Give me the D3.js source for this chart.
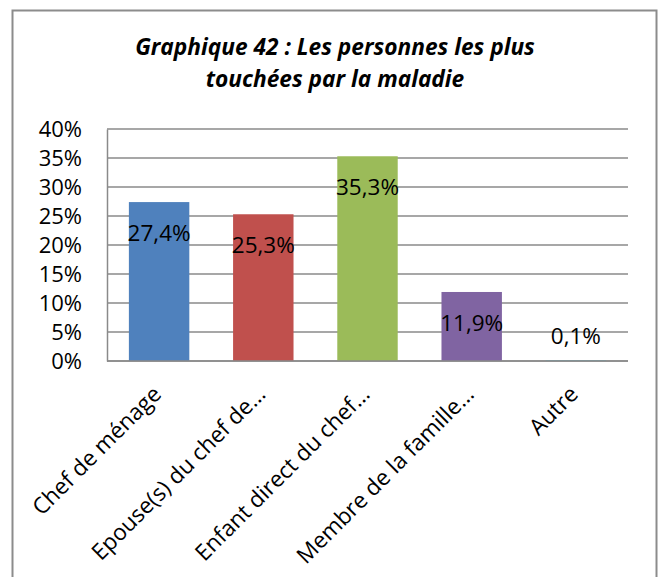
<!DOCTYPE html>
<html>
<head>
<meta charset="utf-8">
<script src="https://cdn.jsdelivr.net/npm/d3@7"></script>
<style>
  html, body { margin: 0; padding: 0; background: #fff; }
  svg { display: block; }
  text { font-family: "Open Sans", Lato, sans-serif; fill: #000; }
</style>
</head>
<body>
<svg id="chart" width="663" height="577"></svg>
<script>
// Les personnes les plus touchées par la maladie
const categories = [
  "Chef de ménage",
  "Epouse(s) du chef de…",
  "Enfant direct du chef…",
  "Membre de la famille…",
  "Autre"
];
const values = [27.4, 25.3, 35.3, 11.9, 0.1];
const barColors = ["#4F81BD", "#C0504D", "#9BBB59", "#8064A2", "#4BACC6"];
const yTicks = [0, 5, 10, 15, 20, 25, 30, 35, 40];
const titleLines = ["Graphique 42 : Les personnes les plus", "touchées par la maladie"];

const svg = d3.select("#chart");
const W = 663, H = 577;
const plot = { left: 107, right: 628, top: 129, bottom: 361 };

// outer frame
svg.append("rect")
  .attr("x", 12.5).attr("y", 10.5)
  .attr("width", 644).attr("height", H + 20)
  .attr("fill", "#fff").attr("stroke", "#8c8c8c").attr("stroke-width", 2);

// title
svg.append("g").selectAll("text").data(titleLines).join("text")
  .attr("x", 335)
  .attr("y", (d, i) => 55 + i * 32)
  .attr("text-anchor", "middle")
  .style("font-size", "22.7px")
  .style("font-weight", "bold")
  .style("font-style", "italic")
  .text(d => d);

const x = d3.scaleBand().domain(categories).range([plot.left, plot.right]).paddingInner(0.42).paddingOuter(0.21);
const y = d3.scaleLinear().domain([0, 40]).range([plot.bottom, plot.top]);

// gridlines
svg.append("g").selectAll("line").data(yTicks).join("line")
  .attr("x1", plot.left).attr("x2", plot.right)
  .attr("y1", d => y(d)).attr("y2", d => y(d))
  .attr("stroke", "#8a8a8a").attr("stroke-width", 1.5);

// y axis
const yAxis = d3.axisLeft(y).tickValues(yTicks).tickSize(0).tickPadding(25).tickFormat(d => d + "%");
const gy = svg.append("g").attr("transform", `translate(${plot.left},0)`).call(yAxis);
gy.select(".domain").attr("stroke", "#8a8a8a").attr("stroke-width", 1.5);
gy.selectAll("text").style("font-size", "22px").style("font-family", "'Open Sans', sans-serif").attr("fill", "#000");

// bars
svg.append("g").selectAll("rect").data(values).join("rect")
  .attr("x", (d, i) => x(categories[i]))
  .attr("width", x.bandwidth())
  .attr("y", d => y(d))
  .attr("height", d => plot.bottom - y(d))
  .attr("fill", (d, i) => barColors[i]);

// x axis baseline
svg.append("line")
  .attr("x1", plot.left).attr("x2", plot.right)
  .attr("y1", plot.bottom).attr("y2", plot.bottom)
  .attr("stroke", "#8a8a8a").attr("stroke-width", 1.5);

// data labels
svg.append("g").selectAll("text").data(values).join("text")
  .attr("x", (d, i) => x(categories[i]) + x.bandwidth() / 2)
  .attr("y", d => (plot.bottom - y(d) > 40 ? y(d) + 31 : y(d) - 24))
  .attr("dy", "0.35em")
  .attr("text-anchor", "middle")
  .style("font-size", "22.5px")
  .text(d => d.toFixed(1).replace(".", ",") + "%");

// rotated category labels
svg.append("g").selectAll("text").data(categories).join("text")
  .attr("transform", d => `translate(${x(d) + x.bandwidth() / 2 - 2},${plot.bottom + 29}) rotate(-45)`)
  .attr("text-anchor", "end")
  .attr("dy", "0.35em")
  .style("font-size", "22.5px")
  .text(d => d);
</script>
</body>
</html>
